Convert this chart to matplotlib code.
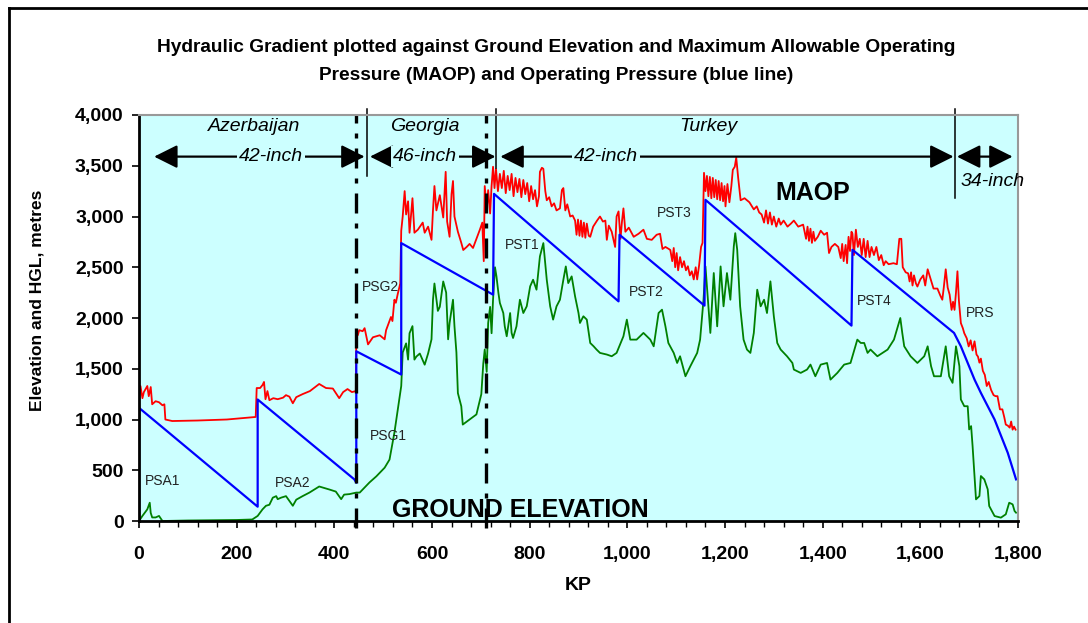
import matplotlib
matplotlib.use("Agg")
import matplotlib.pyplot as plt
from matplotlib.lines import Line2D
from matplotlib.ticker import FuncFormatter, MultipleLocator

plt.rcParams['font.family'] = ['Liberation Sans', 'DejaVu Sans']

# MAOP (red line): KP and level in metres
kp_maop = [0, 3, 7, 10, 17, 20, 24, 27, 34, 41, 48, 52, 54, 68, 120, 180, 239, 241, 248, 253, 256, 259, 263, 267,
           275, 284, 295, 301, 308, 315, 322, 335, 350, 369, 383, 397, 410, 418, 427, 436, 444,
           445, 448, 451, 458, 462, 469, 479, 493, 503, 506, 516, 519, 523, 526, 530, 535, 537, 540, 544, 547,
           551, 554, 560, 564, 571, 581, 585, 592, 599, 602, 605, 609, 616, 623, 628, 631, 636, 640, 643, 646,
           653, 660, 664, 671, 677, 684, 691, 698, 703, 706, 708, 712, 715, 719, 722, 725,
           728, 731, 735, 739, 743, 747, 751, 755, 759, 763, 767, 771, 775, 779, 783, 787, 791, 795, 799, 803,
           807, 811, 815, 819, 821, 825, 828, 832, 835, 840, 845, 850, 855, 862, 866, 869, 873, 877, 883,
           888, 893, 896, 899, 902, 905, 908, 911, 914, 917, 921, 924, 930, 938, 944, 950, 955, 958, 962, 968,
           975, 978, 982, 986, 989, 992, 996, 1003, 1013, 1023, 1033, 1040, 1050, 1060, 1067, 1072, 1078, 1085,
           1088, 1092, 1095, 1098, 1101, 1104, 1108, 1112, 1116, 1120, 1124, 1128, 1132, 1136, 1140, 1143, 1147,
           1151, 1154, 1157, 1160, 1163, 1166, 1169, 1172, 1175, 1178, 1181, 1184, 1187, 1190, 1193, 1196, 1199,
           1201, 1205, 1209, 1213, 1216, 1220, 1223, 1227, 1232, 1240, 1250, 1259, 1265, 1270, 1275, 1280, 1284,
           1288, 1292, 1296, 1300, 1305, 1310, 1314, 1320, 1328, 1335, 1341, 1350, 1360, 1366, 1369, 1372, 1375,
           1378, 1381, 1384, 1390, 1396, 1403, 1409, 1413, 1418, 1425, 1432, 1437, 1440, 1443, 1447, 1450, 1453,
           1456, 1459, 1461, 1464, 1468, 1472, 1476, 1480, 1484, 1488, 1492, 1496, 1500, 1505, 1510, 1515, 1520,
           1525, 1529, 1535, 1545, 1552, 1557, 1561, 1564, 1570, 1575, 1578, 1581, 1584, 1587, 1591, 1594, 1600,
           1606, 1610, 1615, 1620, 1627, 1635, 1641, 1645, 1648, 1652, 1656, 1660, 1664, 1667, 1670, 1673, 1676,
           1679, 1683, 1687, 1690, 1695, 1699, 1703, 1707, 1711, 1715, 1718, 1721, 1724, 1728, 1732, 1736, 1740,
           1745, 1750, 1754, 1758, 1763, 1768, 1772, 1775, 1779, 1783, 1786, 1789, 1792, 1795]
maop = [1230, 1330, 1210, 1270, 1330, 1230, 1320, 1150, 1180, 1170, 1140, 1150, 1000, 985, 990, 1000, 1025, 1310,
        1310, 1340, 1370, 1200, 1280, 1190, 1210, 1200, 1215, 1240, 1225, 1160, 1220, 1250, 1280, 1350, 1310, 1305,
        1210, 1270, 1300, 1270, 1280,
        1840, 1830, 1880, 1870, 1900, 1740, 1810, 1830, 1790, 1880, 2010, 1970, 2180, 2150, 2240, 2340, 2860, 3000,
        3250, 3020, 3150, 2840, 3180, 2840, 2870, 2940, 2840, 2900, 2770, 3060, 3300, 3060, 3210, 2990, 3440, 2950,
        2800, 3220, 3350, 3000, 2850, 2740, 2670, 2700, 2730, 2690, 2780, 2870, 2940, 2560, 3300, 3060, 3260, 3030,
        3300, 3490,
        3280, 3470, 3250, 3420, 3280, 3450, 3230, 3400, 3260, 3420, 3200, 3380, 3240, 3370, 3190, 3360, 3220, 3330,
        3150, 3300, 3170, 3260, 3100, 3200, 3440, 3480, 3470, 3250, 3160, 3190, 3100, 3130, 3060, 3080, 3260, 3280,
        3060, 3120, 3000,
        3010, 2960, 2820, 2970, 2810, 2960, 2800, 2940, 2790, 2930, 2810, 2800, 2900, 2960, 3000, 2950, 2960, 2770,
        2910, 2850, 2700, 3000, 3050, 2780, 2950, 3080, 2850, 2890, 2800, 2830, 2870, 2780, 2770, 2820, 2830, 2680,
        2700, 2680, 2670, 2560, 2690, 2500, 2640, 2470, 2600, 2500, 2560, 2470, 2510, 2420, 2460, 2380, 2500, 2380,
        2520, 2700, 2740, 3430, 3250, 3400, 3200, 3390, 3180, 3380, 3190, 3360, 3170, 3350, 3160, 3330, 3150, 3300,
        3100, 3320, 3140, 3300, 3460, 3490, 3580, 3380, 3160, 3180, 3140, 3070, 3100, 3040, 3020, 2940, 3060, 2930,
        3040, 2920, 3000, 2900, 2980, 2920, 2960, 2900, 2930, 2960, 2900, 2920, 2780, 2900, 2760, 2880, 2740, 2850,
        2760, 2800, 2860, 2820, 2840, 2640, 2700, 2730, 2700, 2590, 2730, 2560, 2720, 2540, 2800, 2660, 2850, 2830,
        2620, 2870, 2700, 2780, 2620, 2780, 2600, 2760, 2600, 2700, 2620, 2700, 2570, 2620, 2520, 2560, 2530, 2540,
        2530, 2780, 2780, 2500, 2450, 2440, 2360, 2450, 2320, 2420, 2340, 2310, 2380, 2420, 2320, 2480, 2400, 2290,
        2290, 2220, 2180, 2300, 2480, 2300, 2230, 2080, 2160, 2080, 2250, 2460, 2170, 1950, 1900, 1850, 1800, 1720,
        1780, 1680, 1770, 1640, 1620, 1560, 1600, 1480, 1440, 1330, 1370, 1290, 1240, 1230, 1230, 1100, 1100, 1020,
        950, 940, 920, 980, 900, 930, 900]

# Operating pressure / HGL (blue line)
kp_hgl = [0, 0, 55, 243, 243, 441, 445, 445, 537, 537, 725, 727, 982, 984, 1158, 1160, 1314, 1459, 1461, 1669,
          1683, 1711, 1724, 1752, 1779, 1796]
hgl = [0, 1115, 895, 141, 1197, 410, 377, 1672, 1443, 2738, 2230, 3223, 2164, 2820, 2122, 3164, 2530, 1925, 2672,
       1853, 1721, 1393, 1262, 1000, 672, 410]

# Ground elevation (green line)
kp_ground = [0, 7, 17, 22, 24, 27, 34, 41, 48, 100, 200, 232, 243, 253, 260, 267, 274, 281, 284, 291, 301, 315, 322,
             335, 349, 369, 390, 403, 414, 420, 431, 445,
             452, 458, 472, 486, 503, 513, 523, 530, 537, 540, 547, 551, 554, 560, 564, 568, 575, 585, 592, 599,
             602, 605, 612, 616, 623, 629, 633, 636, 643, 646, 650, 653, 660, 663, 677, 691, 701, 705, 708, 712,
             715, 719, 722, 725, 729, 732, 736, 739, 746, 749, 753, 760, 763, 766, 773, 780, 787, 794, 801, 807,
             814, 821, 828, 835, 842, 848, 855, 862, 869, 874, 879, 886, 893, 900, 903, 910, 917, 924, 931, 937,
             944, 958, 968, 978, 992, 999, 1006, 1019, 1033, 1047, 1054, 1064, 1071, 1078, 1084, 1095, 1102, 1108,
             1119, 1129, 1143, 1149, 1156, 1160, 1170, 1177, 1184, 1191, 1197, 1204, 1211, 1218, 1221, 1225, 1231,
             1238, 1245, 1252, 1259, 1266, 1273, 1280, 1286, 1293, 1300, 1307, 1314, 1327, 1338, 1341, 1355, 1368,
             1375, 1385, 1396, 1409, 1416, 1430, 1444, 1457, 1471, 1478, 1485, 1492, 1498, 1512, 1533, 1546, 1559,
             1563, 1567, 1580, 1594, 1608, 1615, 1622, 1628, 1642, 1652, 1659, 1666, 1673, 1680, 1683, 1690, 1697,
             1700, 1704, 1707, 1710, 1714, 1721, 1724, 1731, 1738, 1741, 1752, 1765, 1775, 1782, 1789, 1793, 1796]
ground = [0, 50, 115, 180, 80, 35, 35, 50, 0, 5, 10, 15, 50, 115, 150, 160, 230, 245, 215, 230, 245, 150, 210,
          245, 280, 340, 310, 290, 215, 260, 265, 280,
          280, 310, 380, 440, 525, 605, 870, 1100, 1330, 1660, 1750, 1590, 1850, 1920, 1590, 1620, 1650, 1540,
          1650, 1790, 2180, 2340, 2070, 2110, 2360, 2250, 1790, 1950, 2180, 1920, 1660, 1260, 1130, 950, 1000,
          1050, 1250, 1550, 1690, 1470, 1950, 2110, 1850, 2180, 2500, 2410, 2246, 2148, 2049, 1918, 1820, 2049,
          1853, 1803, 1918, 2180, 2049, 2115, 2312, 2377, 2279, 2607, 2738, 2377, 2115, 1984, 2115, 2180, 2377,
          2508, 2344, 2410, 2213, 2049, 1951, 2017, 1984, 1754, 1721, 1689, 1656, 1640, 1623, 1656, 1820, 1984,
          1787, 1787, 1853, 1787, 1721, 2049, 2082, 1918, 1754, 1656, 1557, 1623, 1426, 1525, 1656, 1787, 2180,
          2508, 1853, 2443, 1918, 2508, 2115, 2443, 2180, 2705, 2836, 2672, 2115, 1787, 1689, 1656, 1853, 2279,
          2115, 2180, 2049, 2361, 2017, 1754, 1689, 1623, 1557, 1492, 1459, 1492, 1541, 1426, 1541, 1557, 1393,
          1459, 1541, 1557, 1787, 1754, 1754, 1656, 1689, 1623, 1689, 1787, 2000, 1853, 1721, 1623, 1557, 1623,
          1721, 1525, 1426, 1426, 1721, 1426, 1361, 1721, 1525, 1197, 1131, 1131, 902, 935, 738, 508, 213, 246,
          443, 410, 312, 148, 49, 33, 66, 180, 164, 98, 82]

# station labels
stations = ['PSA1', 'PSA2', 'PSG1', 'PSG2', 'PST1', 'PST2', 'PST3', 'PST4', 'PRS']
station_kp = [12, 279, 473, 456, 749, 1004, 1060, 1471, 1693]
station_lvl = [390, 377, 836, 2305, 2715, 2253, 3033, 2167, 2049]

countries = ['Azerbaijan', 'Georgia', 'Turkey']
country_kp = [236, 585, 1166]

pipe_sizes = ['42-inch', '46-inch', '42-inch', '34-inch']
pipe_start = [31, 473, 740, 1675]
pipe_end = [462, 730, 1668, 1789]
pipe_label_kp = [271, 585, 956, 1749]

border_kp = [445, 710]
section_kp = [467, 731, 1671]
section_bottom = [3400, 3476, 3180]

fig = plt.figure(figsize=(10.88, 6.23), dpi=100)
ax = fig.add_axes([139 / 1088, 1 - 521 / 623, 879 / 1088, 406 / 623])
ax.set_facecolor('#CCFFFF')

ax.plot(kp_ground, ground, color='#008000', lw=1.3)
ax.plot(kp_maop, maop, color='#FF0000', lw=1.3)
ax.plot(kp_hgl, hgl, color='#0000FF', lw=1.6)

for k in border_kp:
    ax.plot([k, k], [-70, 4000], color='black', lw=2.4, ls=(0, (6, 3, 1.5, 3)), clip_on=False)
for k, b in zip(section_kp, section_bottom):
    ax.plot([k, k], [b, 4060], color='black', lw=1.1, clip_on=False)

ax.set_xlim(0, 1800)
ax.set_ylim(0, 4000)
ax.xaxis.set_major_locator(MultipleLocator(200))
ax.xaxis.set_minor_locator(MultipleLocator(40))
ax.yaxis.set_major_locator(MultipleLocator(500))
fmt = FuncFormatter(lambda v, p: f'{int(v):,}')
ax.xaxis.set_major_formatter(fmt)
ax.yaxis.set_major_formatter(fmt)
ax.tick_params(axis='x', which='major', length=5, width=1.2, pad=13, labelsize=14)
ax.tick_params(axis='x', which='minor', length=4, width=1)
ax.tick_params(axis='y', which='major', length=5, width=1.2, pad=6, labelsize=14)
for lab in ax.get_xticklabels() + ax.get_yticklabels():
    lab.set_fontweight('bold')

ax.spines['left'].set_linewidth(2)
ax.spines['bottom'].set_linewidth(2)
ax.spines['top'].set_color('#999999')
ax.spines['right'].set_color('#999999')
ax.spines['top'].set_linewidth(1.5)
ax.spines['right'].set_linewidth(1.5)

# country names
for name, k in zip(countries, country_kp):
    ax.text(k, 3890, name, ha='center', va='center', fontsize=14, style='italic')

# pipe diameter arrows
for i in range(len(pipe_sizes)):
    ax.annotate('', xy=(pipe_end[i], 3590), xytext=(pipe_start[i], 3590),
                arrowprops=dict(arrowstyle='<|-|>,head_length=1.1,head_width=0.55', mutation_scale=13,
                                color='black', lw=1.6, shrinkA=0, shrinkB=0))
for i in range(3):
    ax.text(pipe_label_kp[i], 3590, pipe_sizes[i], ha='center', va='center', fontsize=14, style='italic',
            bbox=dict(boxstyle='square,pad=0.1', fc='#CCFFFF', ec='none'))
ax.text(pipe_label_kp[3], 3343, pipe_sizes[3], ha='center', va='center', fontsize=14, style='italic')

for s, k, v in zip(stations, station_kp, station_lvl):
    ax.text(k, v, s, ha='left', va='center', fontsize=10, color='#222222')

ax.text(1380, 3230, 'MAOP', ha='center', va='center', fontsize=18, fontweight='bold')
ax.text(780, 108, 'GROUND ELEVATION', ha='center', va='center', fontsize=18, fontweight='bold')

fig.text(556 / 1088, 1 - 48 / 623, 'Hydraulic Gradient plotted against Ground Elevation and Maximum Allowable Operating',
         ha='center', va='center', fontsize=13.8, fontweight='bold')
fig.text(556 / 1088, 1 - 76 / 623, 'Pressure (MAOP) and Operating Pressure (blue line)',
         ha='center', va='center', fontsize=13.8, fontweight='bold')
fig.text(578 / 1088, 1 - 585 / 623, 'KP', ha='center', va='center', fontsize=14, fontweight='bold')
fig.text(37 / 1088, 1 - 300 / 623, 'Elevation and HGL, metres', ha='center', va='center', rotation=90,
         fontsize=12.5, fontweight='bold')

# chart frame (top and left edges only visible)
fig.add_artist(Line2D([9 / 1088, 1], [1 - 8 / 623, 1 - 8 / 623], transform=fig.transFigure, color='black', lw=2))
fig.add_artist(Line2D([9 / 1088, 9 / 1088], [0, 1 - 8 / 623], transform=fig.transFigure, color='black', lw=2))

fig.savefig('out.png', dpi=100)
